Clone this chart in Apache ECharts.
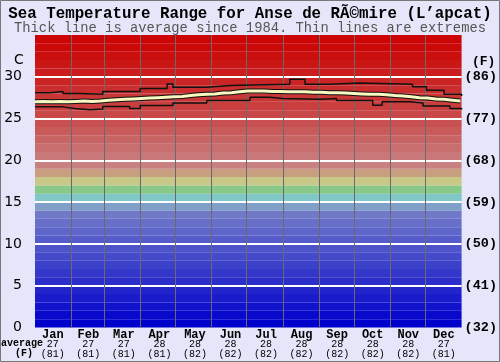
<!DOCTYPE html>
<html>
<head>
<meta charset="utf-8">
<script src="https://cdn.jsdelivr.net/npm/echarts@6/dist/echarts.min.js"></script>
<style>
  html, body { margin: 0; padding: 0; background: #e6e6fa; }
  #chart { width: 500px; height: 362px; }
</style>
</head>
<body>
<div id="chart"></div>
<script>
// months + average labels under the axis
var months = ['Jan', 'Feb', 'Mar', 'Apr', 'May', 'Jun', 'Jul', 'Aug', 'Sep', 'Oct', 'Nov', 'Dec'];
var monthAvgC = [27, 27, 27, 28, 28, 28, 28, 28, 28, 28, 28, 27];
var monthAvgF = [81, 81, 81, 81, 82, 82, 82, 82, 82, 82, 82, 81];
var monthStarts = [31, 59, 90, 120, 151, 181, 212, 243, 273, 304, 334];

// average line (day of year, deg C)
var avgDays = [0, 7, 14, 21, 28, 35, 42, 49, 56, 63, 70, 77, 84, 91, 98, 105, 112, 119, 126, 133,
  140, 147, 154, 161, 168, 175, 182, 189, 196, 203, 210, 217, 224, 231, 238, 245, 252, 259, 266,
  273, 280, 287, 294, 301, 308, 315, 322, 329, 336, 343, 350, 357, 364];
var avgTemp = [27.0, 27.05, 27.0, 27.05, 27.0, 27.05, 27.1, 27.05, 27.1, 27.2, 27.25, 27.3, 27.35,
  27.4, 27.45, 27.5, 27.55, 27.6, 27.65, 27.75, 27.85, 27.9, 27.95, 28.05, 28.1, 28.2, 28.3, 28.3,
  28.3, 28.25, 28.25, 28.2, 28.2, 28.2, 28.15, 28.15, 28.1, 28.1, 28.05, 28.0, 27.95, 27.9, 27.9,
  27.85, 27.75, 27.7, 27.6, 27.5, 27.45, 27.35, 27.3, 27.2, 27.1];

// extremes, step lines (day where the value starts, deg C)
var maxDays = [0, 13, 24, 38, 58, 90, 113, 118, 147, 167, 218, 231, 252, 278, 323, 335, 350, 365];
var maxTemp = [28.1, 28.25, 28.0, 27.9, 28.25, 28.6, 29.15, 28.75, 28.95, 29.1, 29.7, 29.1, 29.25, 29.1, 28.8, 28.4, 27.9, 27.7];
var minDays = [0, 24, 34, 47, 58, 81, 90, 118, 147, 184, 201, 212, 244, 258, 289, 297, 321, 332, 355, 365];
var minTemp = [26.4, 26.2, 26.05, 26.15, 26.45, 26.2, 26.55, 26.85, 27.15, 27.55, 27.4, 27.3, 27.4, 27.15, 26.6, 27.0, 26.85, 26.5, 26.2, 26.1];

function pairs(xs, ys) {
    return xs.map(function (x, i) { return [x, ys[i]]; });
}

// colour of the 1 degree band starting at t
function bandColor(t) {
    var fixed = {
        19: [200, 128, 128], 18: [200, 160, 128], 17: [200, 200, 136],
        16: [136, 200, 136], 15: [128, 200, 200], 14: [128, 160, 200]
    };
    var c;
    if (fixed[t]) {
        c = fixed[t];
    } else if (t >= 20) {
        var k = (t - 20) / 15;
        var g = Math.round(120 * Math.pow(1 - k, 1.3));
        c = [200 + Math.round(4 * k), g, g];
    } else {
        var f = t / 13;
        c = [Math.round(112 * f), Math.round(120 * f), 204 - Math.round(4 * f)];
    }
    return 'rgb(' + c.join(',') + ')';
}

var bands = [];
for (var t = 0; t < 35; t++) {
    bands.push([{ yAxis: t, itemStyle: { color: bandColor(t) } }, { yAxis: t + 1 }]);
}

var mono = 'Liberation Mono';
var chart = echarts.init(document.getElementById('chart'));

var option = {
    backgroundColor: '#e6e6fa',
    animation: false,
    title: [{
        text: 'Sea Temperature Range for Anse de RÃ©mire (L’apcat)',
        left: 'center', top: 6, padding: 0,
        textStyle: { fontFamily: mono, fontWeight: 'bold', fontSize: 15.8, color: '#000' }
    }, {
        text: 'Thick line is average since 1984. Thin lines are extremes',
        left: 'center', top: 21, padding: 0,
        textStyle: { fontFamily: mono, fontWeight: 'normal', fontSize: 13.8, color: '#555' }
    }],
    grid: { left: 35, right: 38, top: 35, bottom: 34.5 },
    xAxis: [{
        type: 'category',
        data: months,
        axisLine: { show: false },
        axisTick: { show: false },
        splitLine: { show: false },
        axisLabel: {
            margin: 2,
            interval: 0,
            formatter: function (v, i) {
                return '{m|' + v + '}\n{v|' + monthAvgC[i] + '}\n{v|(' + monthAvgF[i] + ')}';
            },
            rich: {
                m: { fontFamily: mono, fontWeight: 'bold', fontSize: 12, lineHeight: 10, color: '#000' },
                v: { fontFamily: mono, fontSize: 10, lineHeight: 10, color: '#000' }
            }
        }
    }, {
        type: 'value', min: 0, max: 365, show: false
    }],
    yAxis: [{
        type: 'value', min: 0, max: 35, interval: 5, z: 2,
        axisLine: { show: false },
        axisTick: { show: false },
        splitLine: { show: true, showMinLine: false, showMaxLine: false, lineStyle: { color: '#ffffff', width: 2 } },
        axisLabel: {
            margin: 13,
            fontFamily: 'DejaVu Sans', fontSize: 14, color: '#000',
            formatter: function (v) { return v > 30 ? '' : v; }
        }
    }, {
        type: 'value', min: 0, max: 35, interval: 5, position: 'right',
        axisLine: { show: false },
        axisTick: { show: false },
        splitLine: { show: false },
        axisLabel: {
            margin: 3,
            fontFamily: mono, fontWeight: 'bold', fontSize: 13.5, color: '#000',
            formatter: function (v) { return v > 30 ? '' : '(' + Math.round(v * 9 / 5 + 32) + ')'; }
        }
    }],
    graphic: [
        { type: 'text', left: 14, top: 53, style: { text: 'C', font: '14px "DejaVu Sans"', fill: '#000' } },
        { type: 'text', left: 472, top: 55, style: { text: '(F)', font: 'bold 13px "Liberation Mono"', fill: '#000' } },
        { type: 'text', left: 1, top: 338, style: { text: 'average', font: 'bold 10px "Liberation Mono"', fill: '#000' } },
        { type: 'text', left: 15, top: 348, style: { text: '(F)', font: 'bold 10px "Liberation Mono"', fill: '#000' } },
        { type: 'rect', shape: { x: 0.5, y: 0.5, width: 499, height: 361 }, style: { fill: 'none', stroke: '#777', lineWidth: 1 }, z: 100 }
    ],
    series: [{
        // background bands and month separators
        type: 'line', xAxisIndex: 1, z: 1,
        data: pairs(avgDays, avgTemp),
        symbol: 'none',
        lineStyle: { opacity: 0 },
        silent: true,
        markArea: { silent: true, z: 1, data: bands },
        markLine: {
            silent: true, z: 2, symbol: 'none',
            label: { show: false },
            lineStyle: { color: '#6a6a6a', width: 1, type: 'solid' },
            data: monthStarts.map(function (d) { return { xAxis: d }; })
        }
    }, {
        type: 'line', xAxisIndex: 1, z: 3, step: 'end',
        data: pairs(maxDays, maxTemp),
        symbol: 'none',
        lineStyle: { color: '#111', width: 1.5 }
    }, {
        type: 'line', xAxisIndex: 1, z: 3, step: 'end',
        data: pairs(minDays, minTemp),
        symbol: 'none',
        lineStyle: { color: '#111', width: 1.5 }
    }, {
        type: 'line', xAxisIndex: 1, z: 4,
        data: pairs(avgDays, avgTemp),
        symbol: 'none',
        lineStyle: { color: '#111', width: 5 }
    }, {
        type: 'line', xAxisIndex: 1, z: 5,
        data: pairs(avgDays, avgTemp),
        symbol: 'none',
        lineStyle: { color: '#f8f8c0', width: 3 }
    }]
};

chart.setOption(option);
</script>
</body>
</html>
